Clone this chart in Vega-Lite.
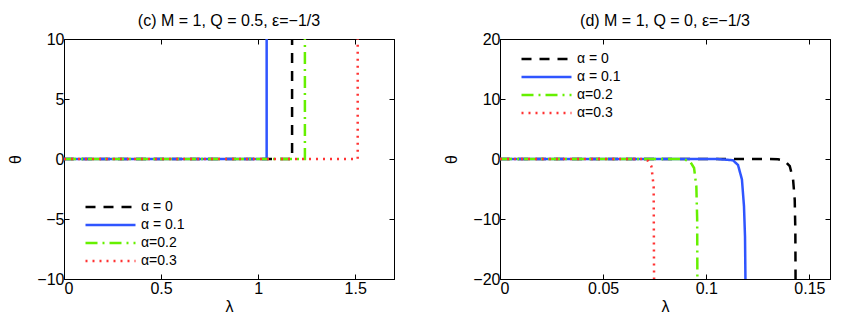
{
  "$schema": "https://vega.github.io/schema/vega-lite/v6.json",
  "autosize": {"type": "pad"},
  "padding": {"left": 7, "top": 12, "right": 0, "bottom": 0},
  "background": "white",
  "spacing": 106,
  "bounds": "flush",
  "config": {
    "font": "Liberation Sans",
    "view": {"stroke": "black", "strokeWidth": 1},
    "axis": {
      "domainColor": "black", "tickColor": "black", "tickSize": -5,
      "labelFont": "Liberation Sans", "labelFontSize": 16, "labelColor": "black",
      "titleFont": "Liberation Sans", "titleFontSize": 16, "titleFontWeight": "normal", "titleColor": "black",
      "grid": false
    },
    "axisX": {"labelPadding": 6},
    "axisY": {"labelPadding": 5},
    "title": {"fontSize": 16, "fontWeight": "normal", "font": "Liberation Sans", "color": "black", "offset": 2},
    "legend": {
      "labelFont": "Liberation Sans", "labelFontSize": 14, "labelColor": "black",
      "symbolType": "stroke", "symbolSize": 2500, "symbolStrokeWidth": 2.5, "clipHeight": 18,
      "rowPadding": 0, "labelOffset": 4, "padding": 0, "title": null
    }
  },
  "datasets": {
    "left": [
      {"s": "α = 0", "i": 0, "x": 0, "y": 0},
      {"s": "α = 0", "i": 1, "x": 1.175, "y": 0},
      {"s": "α = 0", "i": 2, "x": 1.175, "y": 10},
      {"s": "α = 0.1", "i": 0, "x": 0, "y": 0},
      {"s": "α = 0.1", "i": 1, "x": 1.044, "y": 0},
      {"s": "α = 0.1", "i": 2, "x": 1.044, "y": 10},
      {"s": "α=0.2", "i": 0, "x": 0, "y": 0},
      {"s": "α=0.2", "i": 1, "x": 1.241, "y": 0},
      {"s": "α=0.2", "i": 2, "x": 1.241, "y": 10},
      {"s": "α=0.3", "i": 0, "x": 0, "y": 0},
      {"s": "α=0.3", "i": 1, "x": 1.513, "y": 0},
      {"s": "α=0.3", "i": 2, "x": 1.513, "y": 10}
    ],
    "right": [
      {"s": "α = 0", "i": 0, "x": 0, "y": 0},
      {"s": "α = 0", "i": 1, "x": 0.13, "y": 0},
      {"s": "α = 0", "i": 2, "x": 0.1348, "y": -0.05},
      {"s": "α = 0", "i": 3, "x": 0.138, "y": -0.3},
      {"s": "α = 0", "i": 4, "x": 0.1405, "y": -1.2},
      {"s": "α = 0", "i": 5, "x": 0.1421, "y": -3.4},
      {"s": "α = 0", "i": 6, "x": 0.1429, "y": -6.8},
      {"s": "α = 0", "i": 7, "x": 0.1432, "y": -12},
      {"s": "α = 0", "i": 8, "x": 0.1433, "y": -20},
      {"s": "α = 0.1", "i": 0, "x": 0, "y": 0},
      {"s": "α = 0.1", "i": 1, "x": 0.105, "y": 0},
      {"s": "α = 0.1", "i": 2, "x": 0.1129, "y": -0.2},
      {"s": "α = 0.1", "i": 3, "x": 0.1154, "y": -1},
      {"s": "α = 0.1", "i": 4, "x": 0.1173, "y": -3.4},
      {"s": "α = 0.1", "i": 5, "x": 0.1183, "y": -7.9},
      {"s": "α = 0.1", "i": 6, "x": 0.1188, "y": -13},
      {"s": "α = 0.1", "i": 7, "x": 0.119, "y": -20},
      {"s": "α=0.2", "i": 0, "x": 0, "y": 0},
      {"s": "α=0.2", "i": 1, "x": 0.088, "y": 0},
      {"s": "α=0.2", "i": 2, "x": 0.092, "y": -0.3},
      {"s": "α=0.2", "i": 3, "x": 0.0941, "y": -1.5},
      {"s": "α=0.2", "i": 4, "x": 0.0952, "y": -4.6},
      {"s": "α=0.2", "i": 5, "x": 0.0956, "y": -10},
      {"s": "α=0.2", "i": 6, "x": 0.0957, "y": -20},
      {"s": "α=0.3", "i": 0, "x": 0, "y": 0},
      {"s": "α=0.3", "i": 1, "x": 0.069, "y": 0},
      {"s": "α=0.3", "i": 2, "x": 0.0718, "y": -0.3},
      {"s": "α=0.3", "i": 3, "x": 0.0734, "y": -1.2},
      {"s": "α=0.3", "i": 4, "x": 0.0745, "y": -4.6},
      {"s": "α=0.3", "i": 5, "x": 0.0747, "y": -20}
    ]
  },
  "hconcat": [
    {
      "title": "(c) M = 1, Q = 0.5, ε=−1/3",
      "width": 330, "height": 240,
      "data": {"name": "left"},
      "layer": [
        {
          "mark": {"type": "line", "strokeWidth": 2.5, "clip": true},
          "encoding": {
            "x": {"field": "x", "type": "quantitative", "scale": {"domain": [0, 1.7], "nice": false}, "title": "λ",
                  "axis": {"orient": "bottom", "values": [0, 0.5, 1, 1.5], "format": "~r", "titlePadding": 2}},
            "y": {"field": "y", "type": "quantitative", "scale": {"domain": [-10, 10], "nice": false}, "title": "θ",
                  "axis": {"orient": "left", "values": [-10, -5, 0, 5, 10], "format": "~r", "titlePadding": 13}},
            "order": {"field": "i", "type": "quantitative"},
            "color": {"field": "s", "type": "nominal",
                      "scale": {"domain": ["α = 0", "α = 0.1", "α=0.2", "α=0.3"], "range": ["#000000", "#2f55ff", "#66f000", "#ff3333"]},
                      "legend": {"orient": "none", "legendX": 20, "legendY": 159}},
            "strokeDash": {"field": "s", "type": "nominal",
                      "scale": {"domain": ["α = 0", "α = 0.1", "α=0.2", "α=0.3"], "range": [[10, 8], [1, 0], [12, 5, 2, 5], [2, 5]]},
                      "legend": {"orient": "none", "legendX": 20, "legendY": 159}}
          }
        },
        {
          "mark": {"type": "line", "opacity": 0},
          "encoding": {
            "x": {"field": "x", "type": "quantitative", "axis": {"orient": "top", "values": [0, 0.5, 1, 1.5], "labels": false, "title": null}},
            "y": {"field": "y", "type": "quantitative", "axis": {"orient": "right", "values": [-10, -5, 0, 5, 10], "labels": false, "title": null}},
            "detail": {"field": "s"},
            "order": {"field": "i", "type": "quantitative"}
          }
        }
      ]
    },
    {
      "title": "(d) M = 1, Q = 0, ε=−1/3",
      "width": 330, "height": 240,
      "data": {"name": "right"},
      "layer": [
        {
          "mark": {"type": "line", "strokeWidth": 2.5, "clip": true},
          "encoding": {
            "x": {"field": "x", "type": "quantitative", "scale": {"domain": [0, 0.16], "nice": false}, "title": "λ",
                  "axis": {"orient": "bottom", "values": [0, 0.05, 0.1, 0.15], "format": "~r", "titlePadding": 2}},
            "y": {"field": "y", "type": "quantitative", "scale": {"domain": [-20, 20], "nice": false}, "title": "θ",
                  "axis": {"orient": "left", "values": [-20, -10, 0, 10, 20], "format": "~r", "titlePadding": 13}},
            "order": {"field": "i", "type": "quantitative"},
            "color": {"field": "s", "type": "nominal",
                      "scale": {"domain": ["α = 0", "α = 0.1", "α=0.2", "α=0.3"], "range": ["#000000", "#2f55ff", "#66f000", "#ff3333"]},
                      "legend": {"orient": "none", "legendX": 20, "legendY": 11}},
            "strokeDash": {"field": "s", "type": "nominal",
                      "scale": {"domain": ["α = 0", "α = 0.1", "α=0.2", "α=0.3"], "range": [[10, 8], [1, 0], [12, 5, 2, 5], [2, 5]]},
                      "legend": {"orient": "none", "legendX": 20, "legendY": 11}}
          }
        },
        {
          "mark": {"type": "line", "opacity": 0},
          "encoding": {
            "x": {"field": "x", "type": "quantitative", "axis": {"orient": "top", "values": [0, 0.05, 0.1, 0.15], "labels": false, "title": null}},
            "y": {"field": "y", "type": "quantitative", "axis": {"orient": "right", "values": [-20, -10, 0, 10, 20], "labels": false, "title": null}},
            "detail": {"field": "s"},
            "order": {"field": "i", "type": "quantitative"}
          }
        }
      ]
    }
  ],
  "resolve": {
    "scale": {"color": "independent", "strokeDash": "independent"},
    "legend": {"color": "independent", "strokeDash": "independent"}
  }
}
